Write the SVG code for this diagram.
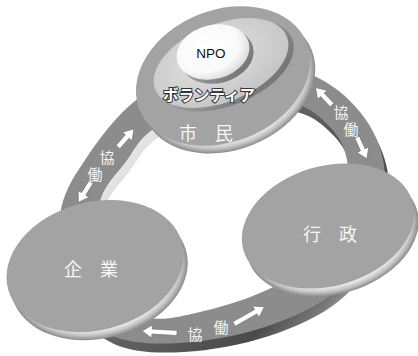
<svg xmlns="http://www.w3.org/2000/svg" width="418" height="356" viewBox="0 0 418 356">
<defs>
<linearGradient id="ringSide" gradientUnits="userSpaceOnUse" x1="60" y1="120" x2="360" y2="360">
<stop offset="0" stop-color="#ffffff"/>
<stop offset="0.22" stop-color="#dedede"/>
<stop offset="0.4" stop-color="#666666"/>
<stop offset="0.72" stop-color="#4a4a4a"/>
<stop offset="0.82" stop-color="#7a7a7a"/>
<stop offset="0.92" stop-color="#cccccc"/>
</linearGradient>
<radialGradient id="rim" cx="0.5" cy="0.5" r="0.5">
<stop offset="0.84" stop-color="#f4f4f4"/>
<stop offset="0.93" stop-color="#c4c4c4"/>
<stop offset="1" stop-color="#8a8a8a"/>
</radialGradient>
<radialGradient id="inner" cx="0.45" cy="0.4" r="0.6">
<stop offset="0" stop-color="#e2e2e2"/>
<stop offset="1" stop-color="#c6c6c6"/>
</radialGradient>
<linearGradient id="bevel" x1="0" y1="0" x2="1" y2="1">
<stop offset="0" stop-color="#bdbdbd"/>
<stop offset="1" stop-color="#6a6a6a"/>
</linearGradient>
<radialGradient id="npo" cx="0.42" cy="0.38" r="0.65">
<stop offset="0" stop-color="#ffffff"/>
<stop offset="0.7" stop-color="#fafafa"/>
<stop offset="1" stop-color="#dadada"/>
</radialGradient>
<path id="arS" d="M0,-2.5 H14 V-6.5 L24,0 L14,6.5 V2.5 H0 Z"/>
<path id="arL" d="M0,-2.5 H25 V-6.5 L35,0 L25,6.5 V2.5 H0 Z"/>
<path id="ringShape" fill-rule="evenodd" d="M228,55 C256.3,51.2 288,64.5 310,74 C332,83.5 347.7,96.8 360,112 C372.3,127.2 381,144.5 384,165 C387,185.5 386.2,213.8 378,235 C369.8,256.2 353.8,276.7 335,292 C316.2,307.3 290.8,318.5 265,327 C239.2,335.5 205.8,341.7 180,343 C154.2,344.3 129,343.8 110,335 C91,326.2 74.3,310 66,290 C57.7,270 56.8,236.7 60,215 C63.2,193.3 71.7,179.7 85,160 C98.3,140.3 116.2,114.5 140,97 C163.8,79.5 199.7,58.8 228,55 Z M225,100 C248,95.8 275.5,98.5 293,103 C310.5,107.5 321,117.5 330,127 C339,136.5 344.5,146.2 347,160 C349.5,173.8 350.3,193 345,210 C339.7,227 329.2,248.2 315,262 C300.8,275.8 279.2,284.7 260,293 C240.8,301.3 218.3,307.8 200,312 C181.7,316.2 164.7,320.8 150,318 C135.3,315.2 120.7,307.2 112,295 C103.3,282.8 99.8,261.2 98,245 C96.2,228.8 96.5,211.7 101,198 C105.5,184.3 116,174.7 125,163 C134,151.3 138.3,138.5 155,128 C171.7,117.5 202,104.2 225,100 Z"/>
<style>
.face{fill:#a3a3a3}
.rim{fill:url(#rim)}
.big{font-family:"Noto Sans CJK JP","Noto Sans",sans-serif;font-size:18px;fill:#f6f6f6;text-anchor:middle;word-spacing:14px}
.kyo{font-family:"Noto Sans CJK JP","Noto Sans",sans-serif;font-size:15px;fill:#f4f4f4;text-anchor:middle}
.arr{fill:#ffffff;stroke:#6e6e6e;stroke-width:0.6}
</style>
</defs>

<g id="ring">
<use href="#ringShape" transform="translate(4 9)" fill="url(#ringSide)"/>
<use href="#ringShape" fill="#8c8c8c"/>
</g>

<g id="kigyo">
<g transform="rotate(-15 95 266)">
<ellipse class="rim" cx="97" cy="275" rx="90" ry="64"/>
<ellipse class="face" cx="95" cy="266" rx="90" ry="64"/>
</g>
<text class="big" x="91" y="276">企 業</text>
</g>

<g id="gyosei">
<g transform="rotate(-16 328 226)">
<ellipse class="rim" cx="330" cy="235" rx="88" ry="60"/>
<ellipse class="face" cx="328" cy="226" rx="88" ry="60"/>
</g>
<text class="big" x="330" y="241">行 政</text>
</g>

<g id="shimin">
<g transform="rotate(-22 223 76)">
<ellipse class="rim" cx="225" cy="85" rx="90" ry="66"/>
<ellipse class="face" cx="223" cy="76" rx="90" ry="66"/>
</g>
<text class="big" x="206" y="140">市 民</text>
</g>

<g id="volunteer">
<g transform="rotate(-22 221 63)">
<ellipse cx="224" cy="67" rx="72" ry="40" fill="url(#bevel)"/>
<ellipse cx="221" cy="63" rx="71" ry="39" fill="url(#inner)"/>
</g>
<text x="209" y="101" font-family="'Noto Sans CJK JP','Noto Sans',sans-serif" font-size="15.5" font-weight="700" fill="#ffffff" stroke="#333333" stroke-width="2" paint-order="stroke" text-anchor="middle">ボランティア</text>
</g>

<g id="npo">
<g transform="rotate(-15 213 52)">
<ellipse cx="216" cy="57" rx="37" ry="27" fill="url(#bevel)"/>
<ellipse cx="213" cy="52" rx="37" ry="27" fill="url(#npo)"/>
</g>
<text x="211" y="58" font-family="'Liberation Sans',Arial,sans-serif" font-size="13.5" fill="#111111" text-anchor="middle">NPO</text>
</g>

<g id="connectors">
<use href="#arS" class="arr" transform="translate(118 147) rotate(-48.6)"/>
<use href="#arS" class="arr" transform="translate(91 182) rotate(121.8)"/>
<use href="#arS" class="arr" transform="translate(332 105) rotate(-133.4)"/>
<use href="#arS" class="arr" transform="translate(357 137) rotate(65.6)"/>
<use href="#arL" class="arr" transform="translate(177 333) rotate(183.4)"/>
<use href="#arL" class="arr" transform="translate(234 324) rotate(-29.4)"/>
<text class="kyo" x="107" y="163">協</text>
<text class="kyo" x="95" y="180">働</text>
<text class="kyo" x="341" y="118">協</text>
<text class="kyo" x="351" y="135">働</text>
<text class="kyo" x="195" y="340">協</text>
<text class="kyo" x="221" y="333">働</text>
</g>
</svg>
